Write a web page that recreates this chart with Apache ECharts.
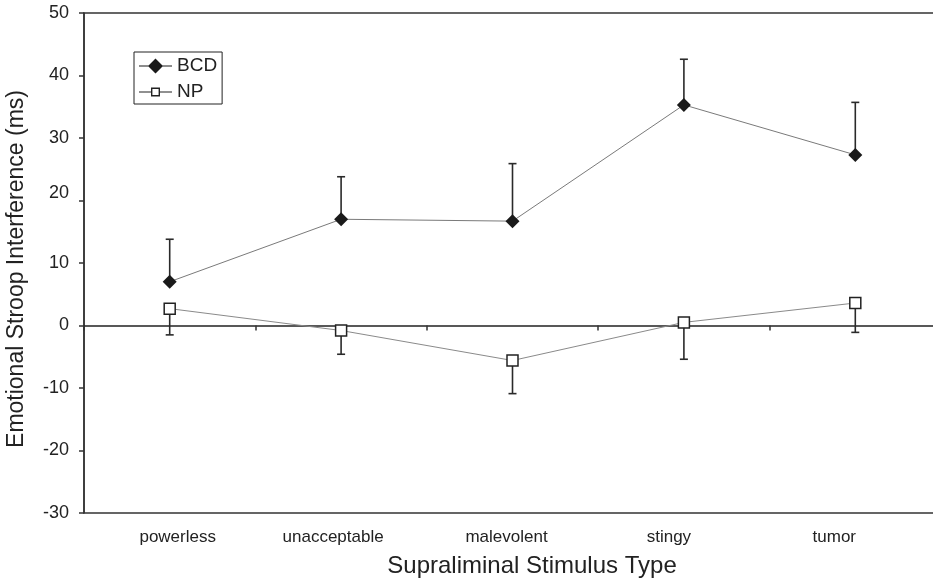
<!DOCTYPE html>
<html>
<head>
<meta charset="utf-8">
<script src="https://cdn.jsdelivr.net/npm/echarts@6/dist/echarts.min.js"></script>
<style>html,body{margin:0;padding:0;background:#fff}#c{width:933px;height:580px}</style>
</head>
<body>
<div id="c"></div>
<script>
var categories = ['powerless', 'unacceptable', 'malevolent', 'stingy', 'tumor'];
var bcdMean = [7.0, 17.0, 16.7, 35.3, 27.3];
var bcdUpper = [13.8, 23.8, 25.9, 42.6, 35.7];
var npMean = [2.7, -0.8, -5.6, 0.5, 3.6];
var npLower = [-1.5, -4.6, -10.9, -5.4, -1.1];
var yTicks = [-30, -20, -10, 0, 10, 20, 30, 40, 50];

var FONT = 'Liberation Sans, Arial, Helvetica, sans-serif';
var chart = echarts.init(document.getElementById('c'), null, {renderer: 'canvas'});

function errData(mean, end) {
  return mean.map(function (m, i) { return [i, m, end[i]]; });
}
function errRender(params, api) {
  var x = api.value(0);
  var p0 = api.coord([x, api.value(1)]);
  var p1 = api.coord([x, api.value(2)]);
  var cap = 4;
  return {
    type: 'group',
    children: [
      {type: 'line', shape: {x1: p0[0], y1: p0[1], x2: p1[0], y2: p1[1]}, style: {stroke: '#2a2a2a', lineWidth: 1.6}},
      {type: 'line', shape: {x1: p1[0] - cap, y1: p1[1], x2: p1[0] + cap, y2: p1[1]}, style: {stroke: '#2a2a2a', lineWidth: 1.6}}
    ]
  };
}

var catRich = {
  c0: {padding: [0, 0, 0, 16]},
  c1: {padding: [0, 16, 0, 0]},
  c2: {padding: [0, 12, 0, 0]},
  c3: {padding: [0, 30, 0, 0]},
  c4: {padding: [0, 42, 0, 0]}
};
Object.keys(catRich).forEach(function (k) {
  catRich[k].fontFamily = FONT; catRich[k].fontSize = 17; catRich[k].color = '#222';
});

var bcdIcon = 'path://M0 7L33 7L33 8L0 8Z M16.5 0L24 7.5L16.5 15L9 7.5Z';
var npIcon = 'path://M0 4L12 4L12 5L0 5Z M21 4L33 4L33 5L21 5Z M12 0L21 0L21 9L12 9Z M13.4 1.4L13.4 7.6L19.6 7.6L19.6 1.4Z';

var option = {
  backgroundColor: '#fff',
  animation: false,
  grid: {left: 84, top: 13, width: 857, height: 500, show: true, borderColor: '#333', borderWidth: 1.5,
    containLabel: false, outerBoundsMode: 'none'},
  legend: {
    left: 134, top: 52, orient: 'vertical',
    data: [
      {name: 'BCD', icon: bcdIcon, itemStyle: {color: '#1a1a1a', borderWidth: 0}},
      {name: 'NP', icon: npIcon, itemStyle: {color: '#222', borderWidth: 0}}
    ],
    symbolKeepAspect: true,
    borderColor: '#222', borderWidth: 1, borderRadius: 0,
    padding: [3, 5, 1, 5], itemGap: 4, itemWidth: 33, itemHeight: 15,
    textStyle: {fontFamily: FONT, fontSize: 19, color: '#222', lineHeight: 22}
  },
  xAxis: [
    {
      type: 'category', data: categories, boundaryGap: true,
      axisLine: {show: false, onZero: false},
      axisTick: {show: false},
      axisLabel: {fontFamily: FONT, fontSize: 17, color: '#222', margin: 16, interval: 0, hideOverlap: false,
        formatter: function (v, i) { return '{c' + i + '|' + v + '}'; }, rich: catRich}
    },
    {
      type: 'category', data: categories, boundaryGap: true, position: 'bottom',
      axisLine: {show: true, onZero: true, onZeroAxisIndex: 0, lineStyle: {color: '#222', width: 1.5}},
      axisTick: {show: true, length: 5, interval: 0, lineStyle: {color: '#333', width: 1.5}},
      axisLabel: {show: false}
    }
  ],
  yAxis: {
    type: 'value', min: -30, max: 50, interval: 10,
    axisLine: {show: true, lineStyle: {color: '#333', width: 1.5}},
    axisTick: {show: true, length: 5, lineStyle: {color: '#333', width: 1.5}},
    splitLine: {show: false},
    axisLabel: {fontFamily: FONT, fontSize: 18, color: '#222', margin: 15,
      formatter: function (v) {
        if (yTicks.indexOf(v) < 0) return '';
        return v === 20 ? '{up|' + v + '}' : String(v);
      },
      rich: {up: {fontFamily: FONT, fontSize: 18, color: '#222', padding: [0, 0, 14, 0]}}}
  },
  graphic: [
    {type: 'text', x: 17, y: 269, rotation: Math.PI / 2,
      style: {text: 'Emotional Stroop Interference (ms)', font: '23px ' + FONT, fill: '#222', textAlign: 'center', textVerticalAlign: 'middle'}},
    {type: 'text', x: 532, y: 566,
      style: {text: 'Supraliminal Stimulus Type', font: '24px ' + FONT, fill: '#222', textAlign: 'center', textVerticalAlign: 'middle'}}
  ],
  series: [
    {type: 'custom', name: 'bcdErr', renderItem: errRender, data: errData(bcdMean, bcdUpper), z: 2, silent: true},
    {type: 'custom', name: 'npErr', renderItem: errRender, data: errData(npMean, npLower), z: 2, silent: true},
    {
      name: 'BCD', type: 'line', data: bcdMean, z: 3,
      symbol: 'diamond', symbolSize: 14,
      lineStyle: {color: '#7a7a7a', width: 1},
      itemStyle: {color: '#1a1a1a'}
    },
    {
      name: 'NP', type: 'line', data: npMean, z: 4,
      symbol: 'rect', symbolSize: 11,
      lineStyle: {color: '#8a8a8a', width: 1},
      itemStyle: {color: '#ffffff', borderColor: '#222', borderWidth: 1.5}
    }
  ]
};
chart.setOption(option);
</script>
</body>
</html>
